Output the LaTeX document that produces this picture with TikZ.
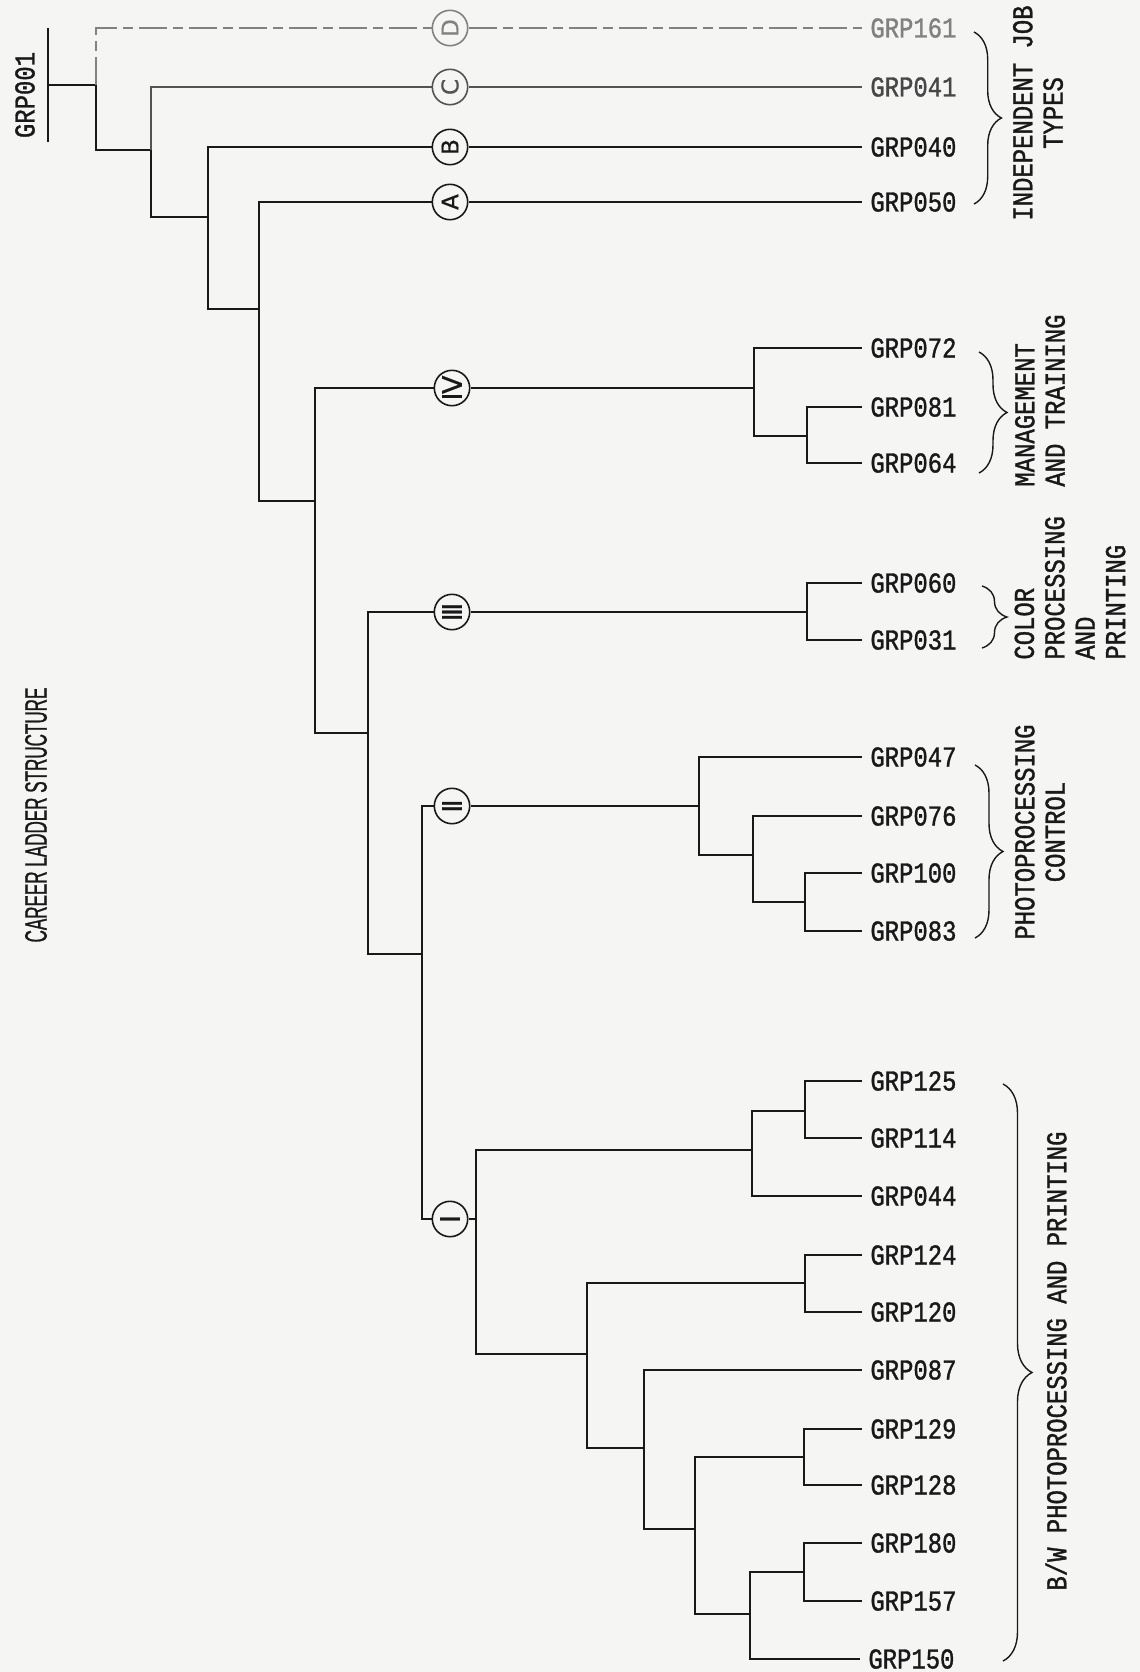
\documentclass[tikz,border=0pt]{standalone}
\usepackage{fontspec}
\setmainfont{Liberation Sans}
\newfontfamily\grpfont[FakeStretch=0.83,FakeBold=1.2]{Liberation Mono}
\newfontfamily\headfont[FakeStretch=0.55,FakeBold=0.8]{Liberation Sans}
\newfontfamily\romfont[FakeBold=0.8]{DejaVu Sans}
\usetikzlibrary{decorations.pathreplacing}
\definecolor{ink}{gray}{0.1}
\definecolor{paper}{rgb}{0.96,0.96,0.955}
\tikzset{
  fig/.style={x=0.5pt,y=-0.5pt},
  ln/.style={draw=ink,line width=1pt},
  faint/.style={draw=ink!55,line width=0.9pt,dash pattern=on 14pt off 3pt on 5pt off 3pt},
  fnt/.style={font=\grpfont\fontsize{14.4}{15.2}\selectfont,text=ink},
  leaf/.style={fnt,anchor=west,inner xsep=4pt,inner ysep=0pt},
  grp/.style={fnt,rotate=90,inner sep=0pt},
  rung/.style={circle,draw=ink,line width=0.8pt,minimum size=17.7pt,inner sep=0pt,
               rotate=90,text=ink,font=\romfont\fontsize{11.5}{11.5}\selectfont},
  roman/.style={rung,font=\romfont\fontsize{13.5}{13.5}\selectfont},
  brc/.style={draw=ink,line width=0.7pt,decorate,decoration={brace,amplitude=#1}},
}

\begin{document}
\begin{tikzpicture}[fig]
\useasboundingbox[fill=paper] (0,0) rectangle (1140,1672);

% titles
\node[font=\headfont\fontsize{15.5}{15.5}\selectfont,text=ink,rotate=90] (title) at (36,815) {CAREER LADDER STRUCTURE};
\node[grp] (top) at (25,95) {GRP001};

% leaves
\node[leaf,text=ink!55] (g161) at (862,28) {GRP161};
\node[leaf,text=ink!80] (g041) at (862,87) {GRP041};
\node[leaf] (g040) at (862,147) {GRP040};
\node[leaf] (g050) at (862,202) {GRP050};
\node[leaf] (g072) at (862,348) {GRP072};
\node[leaf] (g081) at (862,407) {GRP081};
\node[leaf] (g064) at (862,463) {GRP064};
\node[leaf] (g060) at (862,583) {GRP060};
\node[leaf] (g031) at (862,640) {GRP031};
\node[leaf] (g047) at (862,757) {GRP047};
\node[leaf] (g076) at (862,816) {GRP076};
\node[leaf] (g100) at (862,873) {GRP100};
\node[leaf] (g083) at (862,931) {GRP083};
\node[leaf] (g125) at (862,1081) {GRP125};
\node[leaf] (g114) at (862,1138) {GRP114};
\node[leaf] (g044) at (862,1196) {GRP044};
\node[leaf] (g124) at (862,1255) {GRP124};
\node[leaf] (g120) at (862,1312) {GRP120};
\node[leaf] (g087) at (862,1370) {GRP087};
\node[leaf] (g129) at (862,1429) {GRP129};
\node[leaf] (g128) at (862,1485) {GRP128};
\node[leaf] (g180) at (862,1543) {GRP180};
\node[leaf] (g157) at (862,1601) {GRP157};
\node[leaf] (g150) at (860,1659) {GRP150};

% ladder rungs
\node[rung,draw=ink!55,text=ink!55] (cD) at (450,28) {D};
\node[rung,draw=ink!75,text=ink!75] (cC) at (450,87) {C};
\node[rung] (cB) at (450,147) {B};
\node[rung] (cA) at (450,202) {A};
\node[roman] (cIV) at (452,388) {Ⅳ};
\node[roman] (cIII) at (452,612) {Ⅲ};
\node[roman] (cII) at (452,806) {Ⅱ};
\node[roman] (cI) at (450,1219) {Ⅰ};

% joints
\coordinate (root) at (48,85);
\coordinate (n1) at (96,85);
\coordinate (n2) at (151,150);
\coordinate (n3) at (208,217);
\coordinate (n4) at (259,309);
\coordinate (n5) at (315,501);
\coordinate (n6) at (368,733);
\coordinate (n7) at (422,954);
\coordinate (n8) at (476,1219);
\coordinate (nIV) at (754,388);
\coordinate (nIV1) at (807,436);
\coordinate (nIII) at (807,612);
\coordinate (nII) at (699,806);
\coordinate (nII1) at (753,855);
\coordinate (nII2) at (805,902);
\coordinate (nA) at (752,1150);
\coordinate (nA1) at (805,1111);
\coordinate (nB) at (587,1354);
\coordinate (nB1) at (805,1283);
\coordinate (nB2) at (644,1448);
\coordinate (nB3) at (695,1529);
\coordinate (nB4) at (804,1457);
\coordinate (nB5) at (750,1614);
\coordinate (nB6) at (804,1572);

% trunk
\draw[ln] (root) ++(0,-57) -- ++(0,114);
\draw[ln] (root) -- (n1);
\draw[faint] (n1) |- (cD);
\draw[faint] (cD) -- (g161.west);
\draw[ln] (n1) |- (n2);
\draw[ln,draw=ink!75] (n2) |- (cC);
\draw[ln,draw=ink!75] (cC) -- (g041.west);
\draw[ln] (n2) |- (n3);
\draw[ln] (n3) |- (cB);
\draw[ln] (cB) -- (g040.west);
\draw[ln] (n3) |- (n4);
\draw[ln] (n4) |- (cA);
\draw[ln] (cA) -- (g050.west);
\draw[ln] (n4) |- (n5);
\draw[ln] (n5) |- (cIV);
\draw[ln] (n5) |- (n6);
\draw[ln] (n6) |- (cIII);
\draw[ln] (n6) |- (n7);
\draw[ln] (n7) |- (cII);
\draw[ln] (n7) |- (cI);
\draw[ln] (cI) -- (n8);

% IV
\draw[ln] (cIV) -- (nIV);
\draw[ln] (nIV) |- (g072.west);
\draw[ln] (nIV) |- (nIV1);
\draw[ln] (nIV1) |- (g081.west);
\draw[ln] (nIV1) |- (g064.west);

% III
\draw[ln] (cIII) -- (nIII);
\draw[ln] (nIII) |- (g060.west);
\draw[ln] (nIII) |- (g031.west);

% II
\draw[ln] (cII) -- (nII);
\draw[ln] (nII) |- (g047.west);
\draw[ln] (nII) |- (nII1);
\draw[ln] (nII1) |- (g076.west);
\draw[ln] (nII1) |- (nII2);
\draw[ln] (nII2) |- (g100.west);
\draw[ln] (nII2) |- (g083.west);

% I
\draw[ln] (n8) |- (nA);
\draw[ln] (n8) |- (nB);
\draw[ln] (nA) |- (nA1);
\draw[ln] (nA) |- (g044.west);
\draw[ln] (nA1) |- (g125.west);
\draw[ln] (nA1) |- (g114.west);
\draw[ln] (nB) |- (nB1);
\draw[ln] (nB) |- (nB2);
\draw[ln] (nB1) |- (g124.west);
\draw[ln] (nB1) |- (g120.west);
\draw[ln] (nB2) |- (g087.west);
\draw[ln] (nB2) |- (nB3);
\draw[ln] (nB3) |- (nB4);
\draw[ln] (nB3) |- (nB5);
\draw[ln] (nB4) |- (g129.west);
\draw[ln] (nB4) |- (g128.west);
\draw[ln] (nB5) |- (nB6);
\draw[ln] (nB5) |- (g150.west);
\draw[ln] (nB6) |- (g180.west);
\draw[ln] (nB6) |- (g157.west);

% groups
\draw[brc=13.7pt] (974,32) -- (974,204);
\draw[brc=14pt] (979,352) -- (979,473);
\draw[brc=12.5pt] (982,586) -- (982,648);
\draw[brc=14pt] (975,765) -- (975,938);
\draw[brc=14.5pt] (1003,1084) -- (1003,1661);

\node[grp,align=center] (indep) at (1038,113) {INDEPENDENT JOB\\TYPES};
\node[grp,align=left,anchor=west] (mgmt) at (1040,487) {MANAGEMENT\\AND TRAINING};
\node[grp,align=left,anchor=west] (color) at (1070,660) {COLOR\\PROCESSING\\AND\\PRINTING};
\node[grp,align=center] (pctl) at (1040,832) {PHOTOPROCESSING\\CONTROL};
\node[grp] (bw) at (1056,1361) {B/W PHOTOPROCESSING AND PRINTING};

\end{tikzpicture}
\end{document}
